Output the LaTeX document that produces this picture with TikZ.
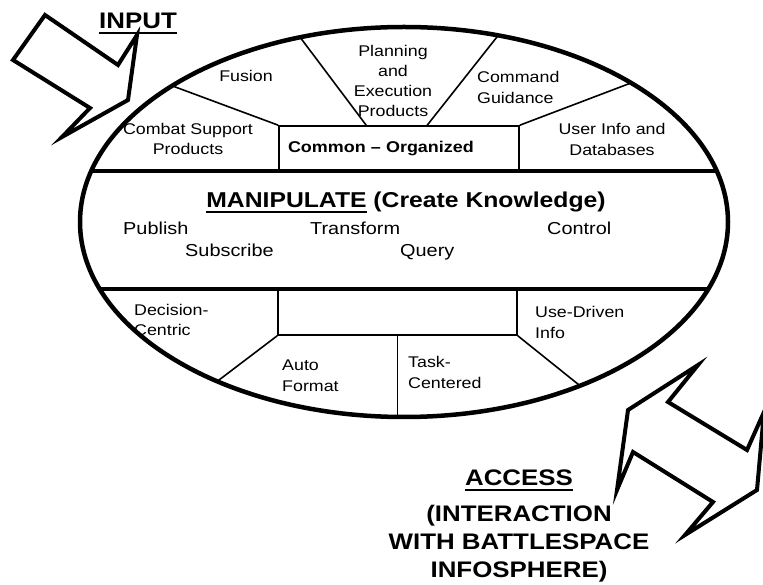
\documentclass[tikz,border=0pt]{standalone}
\usepackage{fontspec}
\setmainfont{Liberation Sans}[FakeStretch=1.15]

\newcommand{\ulbar}[1]{\setbox0=\hbox{#1}\rlap{\vrule height -3pt depth 5.5pt width \wd0}\box0\relax}

\begin{document}
\begin{tikzpicture}[x=1pt, y=1pt,
	lbl/.style={inner sep=0pt, align=left, font=\fontsize{15.5}{20.5}\selectfont},
	mid/.style={inner sep=0pt, anchor=base west, font=\fontsize{17.3}{21}\selectfont},
	head/.style={inner sep=0pt, align=center, font=\fontsize{22.5}{28}\selectfont\bfseries},
	rim/.style={line width=4.5pt},
	part/.style={line width=1.6pt},
	fatarrow/.style={line width=4pt, line join=miter, miter limit=20}]
	\clip (0,0) rectangle (763,584);
	\coordinate (c) at (404,362);
	\draw[rim] (c) ellipse [x radius=324, y radius=195];
	\coordinate (bandUL) at ([shift={(164.84:324pt and 195pt)}]c);
	\coordinate (bandUR) at ([shift={(15.16:324pt and 195pt)}]c);
	\coordinate (bandLL) at ([shift={(200.1:324pt and 195pt)}]c);
	\coordinate (bandLR) at ([shift={(-20.1:324pt and 195pt)}]c);
	\draw[rim] (bandUL) -- (bandUR);
	\draw[rim] (bandLL) -- (bandLR);

	\node[part, draw, minimum width=240pt, minimum height=45pt, inner xsep=9pt, text width=222pt, align=left, font=\fontsize{15.6}{19}\selectfont\bfseries] (common) at (399,435.5) {Common -- Organized};
	\node[part, draw, minimum width=239pt, minimum height=46pt] (lowbox) at (397.5,272) {};

	\coordinate (rimA) at ([shift={(135.7:324pt and 195pt)}]c);
	\coordinate (rimB) at ([shift={(108.7:324pt and 195pt)}]c);
	\coordinate (rimC) at ([shift={(73.1:324pt and 195pt)}]c);
	\coordinate (rimD) at ([shift={(45.5:324pt and 195pt)}]c);
	\coordinate (rimE) at ([shift={(234.8:324pt and 195pt)}]c);
	\coordinate (rimF) at ([shift={(-57.1:324pt and 195pt)}]c);
	\coordinate (rimG) at ([shift={(270:324pt and 195pt)}]c);
	\draw[part] (common.north west) -- (rimA);
	\draw[part] ([xshift=88pt]common.north west) -- (rimB);
	\draw[part] ([xshift=149pt]common.north west) -- (rimC);
	\draw[part] (common.north east) -- (rimD);
	\draw[part] (lowbox.south west) -- (rimE);
	\draw[part] (lowbox.south east) -- (rimF);
	\draw[part] (lowbox.south) -- (lowbox.south |- rimG);

	\node[lbl, anchor=base] (fusion) at (246,502) {Fusion};
	\node[lbl, align=center] (combat) at (188,445) {Combat Support\\Products};
	\node[lbl, align=center, font=\fontsize{15.5}{20.3}\selectfont] (plan) at (393,503) {Planning\\and\\Execution\\Products};
	\node[lbl, anchor=west] (command) at (477,496.5) {Command\\Guidance};
	\node[lbl, align=center] (userinfo) at (612,444.5) {User Info and\\Databases};

	\node[head, anchor=base, font=\fontsize{21.5}{26}\selectfont\bfseries] (manip) at (406,376) {\ulbar{MANIPULATE} (Create Knowledge)};
	\node[mid] (publish) at (123,349) {Publish};
	\node[mid] (transform) at (310,349) {Transform};
	\node[mid] (control) at (547,349) {Control};
	\node[mid] (subscribe) at (185,327) {Subscribe};
	\node[mid] (query) at (400,327) {Query};

	\node[lbl, anchor=west] (decision) at (134,264) {Decision-\\Centric};
	\node[lbl, anchor=west] (autoformat) at (282,208.5) {Auto\\Format};
	\node[lbl, anchor=west] (task) at (408,211.5) {Task-\\Centered};
	\node[lbl, anchor=west] (usedriven) at (535,261.5) {Use-Driven\\Info};

	\node[head, anchor=base] (input) at (138,555) {\ulbar{INPUT}};
	\node[head] (access) at (519,57.6) {\ulbar{ACCESS}\\[8pt](INTERACTION\\WITH BATTLESPACE\\INFOSPHERE)};

	\draw[fatarrow] (45,569) -- (13,524) -- (90,476) -- (62,447) -- (128,484) -- (137,549) -- (118,519) -- cycle;
	\draw[fatarrow] (698,219) -- (668,182) -- (747,134) -- (764,172) -- (757,94) -- (685,49) -- (713,82) -- (633,132) -- (617,94) -- (628,174) -- cycle;
\end{tikzpicture}
\end{document}
